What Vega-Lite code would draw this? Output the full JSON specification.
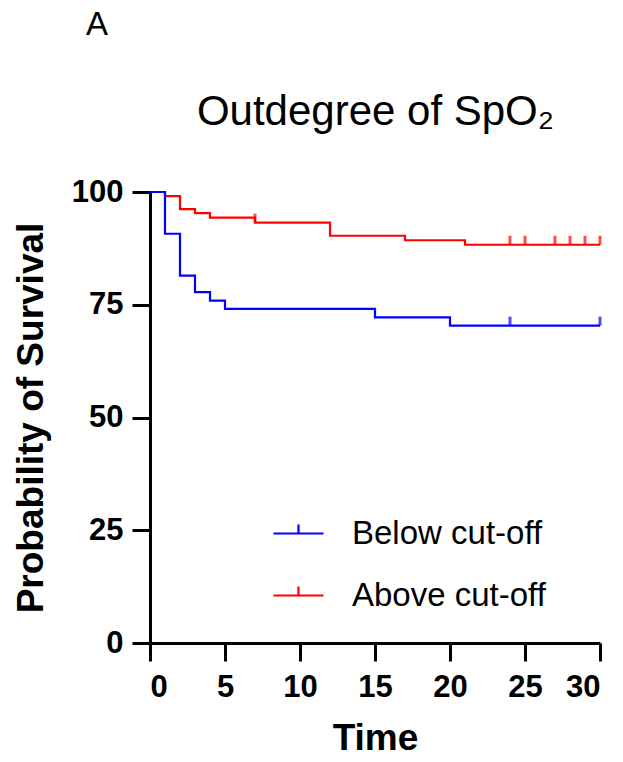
{
  "$schema": "https://vega.github.io/schema/vega-lite/v6.json",
  "width": 450,
  "height": 451,
  "autosize": {"type": "none"},
  "padding": {"left": 150, "top": 192, "right": 23, "bottom": 119},
  "background": "white",
  "config": {
    "view": {"stroke": null},
    "font": "Liberation Sans",
    "axis": {
      "grid": false,
      "domainColor": "black",
      "domainWidth": 3,
      "tickColor": "black",
      "tickWidth": 3,
      "tickSize": 18,
      "labelColor": "black",
      "labelFont": "Liberation Sans",
      "labelFontWeight": "bold",
      "labelFontSize": 31,
      "titleFont": "Liberation Sans",
      "titleFontWeight": "bold",
      "titleFontSize": 37,
      "titleColor": "black"
    },
    "legend": {
      "orient": "none",
      "legendX": 122,
      "legendY": 315,
      "symbolType": "M-1,0H1M0,0V-0.36",
      "symbolSize": 2500,
      "symbolStrokeWidth": 2.2,
      "labelFont": "Liberation Sans",
      "labelFontSize": 33,
      "labelColor": "black",
      "labelOffset": 27,
      "labelLimit": 0,
      "rowPadding": 18
    }
  },
  "title": {
    "text": "A",
    "font": "Liberation Sans",
    "fontSize": 33,
    "fontWeight": "normal",
    "color": "black",
    "anchor": "start",
    "frame": "group",
    "dx": -64,
    "offset": 48
  },
  "datasets": {
    "curve": [
      {"group": "Above cut-off", "time": 0, "survival": 100},
      {"group": "Above cut-off", "time": 1, "survival": 99.1},
      {"group": "Above cut-off", "time": 2, "survival": 96.2},
      {"group": "Above cut-off", "time": 3, "survival": 95.3},
      {"group": "Above cut-off", "time": 4, "survival": 94.3},
      {"group": "Above cut-off", "time": 7, "survival": 93.2},
      {"group": "Above cut-off", "time": 12, "survival": 90.3},
      {"group": "Above cut-off", "time": 17, "survival": 89.3},
      {"group": "Above cut-off", "time": 21, "survival": 88.3},
      {"group": "Above cut-off", "time": 30, "survival": 88.3},
      {"group": "Below cut-off", "time": 0, "survival": 100},
      {"group": "Below cut-off", "time": 1, "survival": 90.74},
      {"group": "Below cut-off", "time": 2, "survival": 81.48},
      {"group": "Below cut-off", "time": 3, "survival": 77.78},
      {"group": "Below cut-off", "time": 4, "survival": 75.93},
      {"group": "Below cut-off", "time": 5, "survival": 74.07},
      {"group": "Below cut-off", "time": 15, "survival": 72.22},
      {"group": "Below cut-off", "time": 20, "survival": 70.37},
      {"group": "Below cut-off", "time": 30, "survival": 70.37}
    ],
    "censor": [
      {"group": "Above cut-off", "time": 7, "survival": 93.2},
      {"group": "Above cut-off", "time": 24, "survival": 88.3},
      {"group": "Above cut-off", "time": 25, "survival": 88.3},
      {"group": "Above cut-off", "time": 27, "survival": 88.3},
      {"group": "Above cut-off", "time": 28, "survival": 88.3},
      {"group": "Above cut-off", "time": 29, "survival": 88.3},
      {"group": "Above cut-off", "time": 30, "survival": 88.3},
      {"group": "Below cut-off", "time": 24, "survival": 70.37},
      {"group": "Below cut-off", "time": 30, "survival": 70.37}
    ]
  },
  "resolve": {"axis": {"x": "independent"}},
  "layer": [
    {
      "data": {"name": "curve"},
      "mark": {"type": "line", "interpolate": "step-after", "strokeWidth": 2.2},
      "encoding": {
        "x": {
          "field": "time",
          "type": "quantitative",
          "scale": {"domain": [0, 30]},
          "axis": {"values": [0, 5, 10, 15, 20, 25, 30], "title": "Time", "labelPadding": 11, "titlePadding": 18}
        },
        "y": {
          "field": "survival",
          "type": "quantitative",
          "scale": {"domain": [0, 100]},
          "axis": {"values": [0, 25, 50, 75, 100], "title": "Probability of Survival", "labelPadding": 9, "titlePadding": 21}
        },
        "color": {
          "field": "group",
          "type": "nominal",
          "scale": {"domain": ["Below cut-off", "Above cut-off"], "range": ["#0000ff", "#ff0000"]},
          "legend": {"title": null}
        }
      }
    },
    {
      "data": {"name": "censor"},
      "mark": {"type": "tick", "orient": "vertical", "size": 9, "thickness": 3, "yOffset": -4.5},
      "encoding": {
        "x": {
          "field": "time",
          "type": "quantitative",
          "axis": {
            "orient": "top",
            "labels": false,
            "ticks": false,
            "domain": false,
            "title": "Outdegree of SpO₂",
            "titleX": 225,
            "titleY": -68,
            "titleAlign": "center",
            "titleBaseline": "alphabetic",
            "titleFontWeight": "normal",
            "titleFontSize": 42
          }
        },
        "y": {"field": "survival", "type": "quantitative"},
        "fill": {
          "field": "group",
          "type": "nominal",
          "scale": {"domain": ["Below cut-off", "Above cut-off"], "range": ["#0000ff", "#ff0000"]},
          "legend": null
        }
      }
    }
  ]
}
